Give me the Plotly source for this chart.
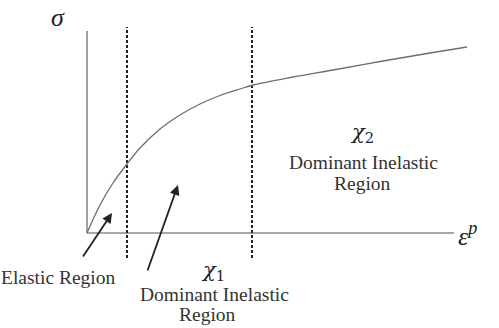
import plotly.graph_objects as go

# Schematic stress vs plastic strain curve (arbitrary units)
strain = [0, 13, 26, 40, 53, 73, 93, 113, 133, 153, 166, 206, 246, 296, 340, 380]
stress = [0, 28, 50, 69, 85, 104, 118, 129, 137.5, 144, 148, 156, 163, 172, 179.5, 186]

# Region boundaries (x positions of dashed lines)
boundaries = [40, 165]
x_axis_end = 367
y_axis_top = 202

fig = go.Figure()

# axes
fig.add_trace(go.Scatter(x=[0, x_axis_end], y=[0, 0], mode="lines",
                         line=dict(color="#8a8a8a", width=1.6), hoverinfo="skip"))
fig.add_trace(go.Scatter(x=[0, 0], y=[0, y_axis_top], mode="lines",
                         line=dict(color="#8a8a8a", width=1.6), hoverinfo="skip"))

# dashed boundaries
for b in boundaries:
    fig.add_trace(go.Scatter(x=[b, b], y=[-25, 206], mode="lines",
                             line=dict(color="#222222", width=2, dash="3px,2px"),
                             hoverinfo="skip"))

# curve
fig.add_trace(go.Scatter(x=strain, y=stress, mode="lines",
                         line=dict(color="#6e6e6e", width=1.3, shape="spline", smoothing=1.0),
                         hoverinfo="skip"))

serif = "Liberation Serif, Times New Roman, serif"
greek = "DejaVu Serif, Liberation Serif, serif"
tc = "#333333"
fs = 19.5

ann = [
    dict(x=-29, y=216, text="<i>σ</i>", font=dict(size=26, family=serif, color="#222")),
    dict(x=369, y=-1, text="<i>ε</i><sup><i>p</i></sup>", font=dict(size=26, family=serif, color="#222"), xanchor="left"),
    dict(x=275, y=100, text="<i>χ</i><sub>2</sub>", font=dict(size=21, family=greek, color="#222")),
    dict(x=276, y=71, text="Dominant Inelastic", font=dict(size=fs, family=serif, color=tc)),
    dict(x=275, y=50, text="Region", font=dict(size=fs, family=serif, color=tc)),
    dict(x=-29, y=-44, text="Elastic Region", font=dict(size=fs, family=serif, color=tc)),
    dict(x=126, y=-38, text="<i>χ</i><sub>1</sub>", font=dict(size=21, family=greek, color="#222")),
    dict(x=127, y=-61, text="Dominant Inelastic", font=dict(size=fs, family=serif, color=tc)),
    dict(x=120, y=-81, text="Region", font=dict(size=fs, family=serif, color=tc)),
]
for a in ann:
    a.setdefault("xanchor", "center")
    fig.add_annotation(xref="x", yref="y", showarrow=False, yanchor="middle", **a)

# arrows
for (tx, ty, hx, hy) in [(-5, -25, 25, 20), (60, -39, 91, 48)]:
    fig.add_annotation(x=hx, y=hy, ax=tx, ay=ty, xref="x", yref="y", axref="x", ayref="y",
                       showarrow=True, arrowhead=2, arrowsize=1.1, arrowwidth=1.8,
                       arrowcolor="#222222", text="")

fig.update_layout(
    width=499, height=328, margin=dict(l=0, r=0, t=0, b=0),
    paper_bgcolor="white", plot_bgcolor="white", showlegend=False,
    xaxis=dict(range=[-87, 412], visible=False, fixedrange=True),
    yaxis=dict(range=[-95, 233], visible=False, fixedrange=True),
)
fig.write_html("out.html")
